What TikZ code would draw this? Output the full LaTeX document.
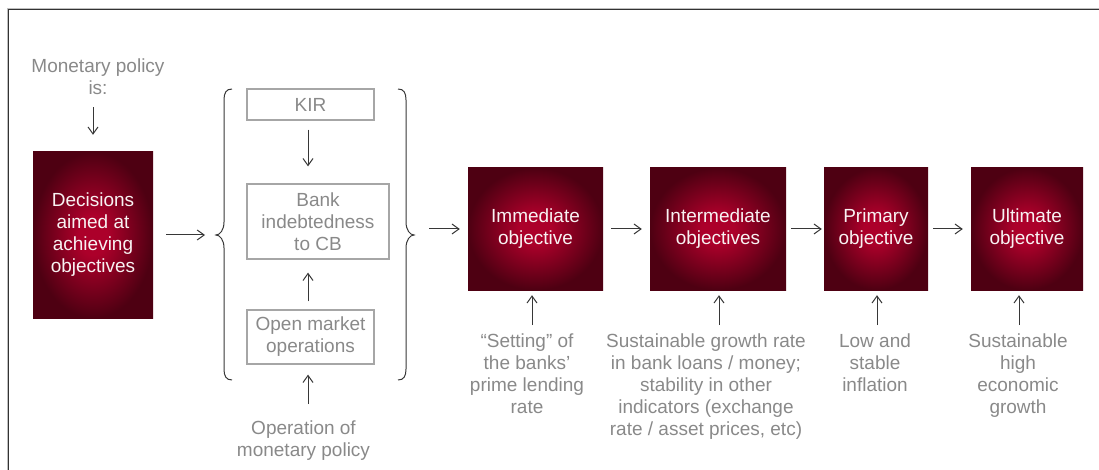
\documentclass[tikz,border=0pt]{standalone}
\usepackage{fontspec}
\setmainfont{Liberation Sans}
\usetikzlibrary{arrows.meta}
\definecolor{boxin}{RGB}{172,0,42}
\definecolor{boxout}{RGB}{78,0,18}
\definecolor{txtgray}{RGB}{137,137,137}
\definecolor{brdgray}{RGB}{166,166,166}
\definecolor{arrgray}{RGB}{55,55,55}
\definecolor{boxtxt}{RGB}{248,242,242}
\pgfdeclareradialshading{boxshade}{\pgfpoint{0bp}{0bp}}{color(0bp)=(boxin); color(6bp)=(boxin); color(25bp)=(boxout); color(50bp)=(boxout)}
\tikzset{
  redbox/.style={shading=boxshade, draw=none, inner sep=0pt, align=center,
    text=boxtxt, font=\fontsize{19}{22}\selectfont},
  graybox/.style={draw=brdgray, line width=1.3pt, inner sep=0pt, align=center,
    text=txtgray, font=\fontsize{19}{22}\selectfont},
  graytext/.style={inner sep=0pt, align=center, text=txtgray,
    font=\fontsize{19}{22}\selectfont},
  arr/.style={draw=arrgray, line width=1pt, -{Straight Barb[length=7pt,width=10pt,line width=1pt]}},
  bracestyle/.style={draw=arrgray, line width=1pt},
}
\begin{document}
\begin{tikzpicture}[x=1pt,y=-1pt]
\useasboundingbox (0,0) rectangle (1099,470);
% frame
\draw[draw=black!25, line width=0.8pt] (7,470) -- (7,8) -- (1099,8);
\draw[draw=black!80, line width=1.6pt] (8.5,470) -- (8.5,9.5) -- (1099,9.5);
% left column
\node[graytext, anchor=north] (mp) at (98,59) {Monetary policy\\is:};
\node[redbox, minimum width=120pt, minimum height=166pt] (dec) at (93,235)
  {Decisions\\aimed at\\achieving\\objectives};
\draw[arr, shorten <=12pt, shorten >=17pt] (dec.north |- mp.south) -- (dec.north);
% braces
\coordinate (lbt) at (216,235);
\coordinate (rbt) at (414,235);
\draw[bracestyle] (232,89) .. controls (226,89) and (224,93) .. (224,100) -- (224,222)
  .. controls (224,230) and (220,235) .. (216,235)
  .. controls (220,235) and (224,240) .. (224,248) -- (224,369)
  .. controls (224,376) and (226,380) .. (232,380);
\draw[bracestyle] (398,89) .. controls (404,89) and (406,93) .. (406,100) -- (406,222)
  .. controls (406,230) and (410,235) .. (414,235)
  .. controls (410,235) and (406,240) .. (406,248) -- (406,369)
  .. controls (406,376) and (404,380) .. (398,380);
\draw[arr, shorten <=13pt, shorten >=11pt] (dec.east) -- (lbt);
% middle column
\node[graybox, minimum width=127pt, minimum height=31pt] (kir) at (310.5,104.5) {KIR};
\node[graybox, minimum width=142pt, minimum height=75pt] (bank) at (318,221.5) {Bank\\indebtedness\\to CB};
\node[graybox, minimum width=127pt, minimum height=54pt] (omo) at (310.5,337) {Open market\\operations};
\node[graytext, anchor=north] (op) at (303.5,421) {Operation of\\monetary policy};
\draw[arr, shorten <=9pt, shorten >=17pt] ([xshift=-2.5pt]kir.south) -- ([xshift=-2.5pt]kir.south |- bank.north);
\draw[arr, shorten <=8pt, shorten >=13pt] ([xshift=-2.5pt]omo.north) -- ([xshift=-2.5pt]omo.north |- bank.south);
\draw[arr, shorten <=17pt, shorten >=10pt] ([xshift=-2.5pt]omo.south |- op.north) -- ([xshift=-2.5pt]omo.south);
% objective boxes
\node[redbox, minimum width=135pt, minimum height=122pt] (imm) at (535.5,229) {Immediate\\objective};
\node[redbox, minimum width=136pt, minimum height=122pt] (int) at (718,229) {Intermediate\\objectives};
\node[redbox, minimum width=104pt, minimum height=122pt] (pri) at (876,229) {Primary\\objective};
\node[redbox, minimum width=112pt, minimum height=122pt] (ult) at (1027,229) {Ultimate\\objective};
\draw[arr, shorten <=15pt, shorten >=8pt] (rbt |- imm.west) -- (imm.west);
\draw[arr, shorten <=8pt, shorten >=8pt] (imm.east) -- (int.west);
\draw[arr, shorten <=5pt, shorten >=2pt] (int.east) -- (pri.west);
\draw[arr, shorten <=5pt, shorten >=8pt] (pri.east) -- (ult.west);
% bottom texts
\node[graytext, anchor=north] (set) at (527,334) {“Setting” of\\the banks’\\prime lending\\rate};
\node[graytext, anchor=north] (sus) at (706,334) {Sustainable growth rate\\in bank loans / money;\\stability in other\\indicators (exchange\\rate / asset prices, etc)};
\node[graytext, anchor=north] (low) at (875,334) {Low and\\stable\\inflation};
\node[graytext, anchor=north] (hig) at (1018,334) {Sustainable\\high\\economic\\growth};
\draw[arr, shorten <=9pt, shorten >=5pt] ([xshift=-3.5pt]imm.south |- set.north) -- ([xshift=-3.5pt]imm.south);
\draw[arr, shorten <=9pt, shorten >=5pt] ([xshift=1pt]int.south |- sus.north) -- ([xshift=1pt]int.south);
\draw[arr, shorten <=9pt, shorten >=5pt] ([xshift=1pt]pri.south |- low.north) -- ([xshift=1pt]pri.south);
\draw[arr, shorten <=9pt, shorten >=5pt] ([xshift=-8pt]ult.south |- hig.north) -- ([xshift=-8pt]ult.south);
\end{tikzpicture}
\end{document}
